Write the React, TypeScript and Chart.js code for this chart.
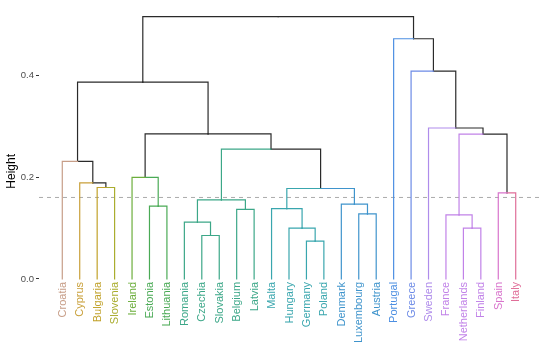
import React, { useEffect, useRef } from "react";
import { Chart, registerables } from "chart.js";

Chart.register(...registerables);

// Leaves in display order
const leafLabels = [
  "Croatia", "Cyprus", "Bulgaria", "Slovenia", "Ireland", "Estonia", "Lithuania",
  "Romania", "Czechia", "Slovakia", "Belgium", "Latvia", "Malta", "Hungary",
  "Germany", "Poland", "Denmark", "Luxembourg", "Austria", "Portugal", "Greece",
  "Sweden", "France", "Netherlands", "Finland", "Spain", "Italy",
];
// cluster id of each leaf
const leafCluster = [0, 1, 2, 3, 4, 5, 5, 6, 6, 6, 6, 6, 7, 7, 7, 7, 8, 8, 8, 9, 10, 11, 12, 12, 12, 13, 14];
const clusterColors = [
  "#C79E88", "#C9A03A", "#C1A22A", "#AAAD2E", "#6CAE3C", "#4AAA55", "#3CA788",
  "#39A6AE", "#3F94CC", "#4C8FE2", "#6C8AE6", "#AF8CEB", "#C182E8", "#D874CC", "#E06E98",
];
// hclust-style merges: negative = leaf -(index+1), positive = earlier merge (1-based)
const mergeLeft = [-15, -9, -14, -24, -8, -23, -18, -11, -13, -6, -17, 5, -26, 9, -3, -2, -5, -1, 12, 6, 17, -22, 18, -21, -20, 23];
const mergeRight = [-16, -10, 1, -25, 2, 4, -19, -12, 3, -7, 7, 8, -27, 11, -4, 15, 10, 16, 14, 13, 19, 20, 21, 22, 24, 25];
const mergeHeight = [
  0.0744, 0.0853, 0.0997, 0.0997, 0.1114, 0.1256, 0.1276, 0.1367, 0.1379, 0.1431,
  0.147, 0.1554, 0.169, 0.1776, 0.1795, 0.1886, 0.1996, 0.2308, 0.2548, 0.2843,
  0.2847, 0.2964, 0.3866, 0.408, 0.4716, 0.515,
];
const cutHeight = 0.16;
const yTickValues = [0, 0.2, 0.4];

const FONT = "'Liberation Sans', Arial, sans-serif";
const BLACK = "#2a2a2a";

function buildTree() {
  const nodeX: number[] = [];
  const nodeH: number[] = [];
  const nodeLeaves: number[][] = [];
  const info = (ref: number) => {
    if (ref < 0) {
      const i = -ref - 1;
      return { x: i, h: 0, leaves: [i] };
    }
    return { x: nodeX[ref - 1], h: nodeH[ref - 1], leaves: nodeLeaves[ref - 1] };
  };
  const edges: { pts: { x: number; y: number }[]; color: string }[] = [];
  for (let k = 0; k < mergeHeight.length; k++) {
    const a = info(mergeLeft[k]);
    const b = info(mergeRight[k]);
    const h = mergeHeight[k];
    const cx = (a.x + b.x) / 2;
    nodeX.push(cx);
    nodeH.push(h);
    nodeLeaves.push([...a.leaves, ...b.leaves]);
    for (const c of [a, b]) {
      const cl = leafCluster[c.leaves[0]];
      const same = c.leaves.every((l) => leafCluster[l] === cl);
      edges.push({
        pts: [
          { x: cx, y: h },
          { x: c.x, y: h },
          { x: c.x, y: c.h },
        ],
        color: same ? clusterColors[cl] : BLACK,
      });
    }
  }
  return edges;
}

const xMin = -1.335;
const xMax = leafLabels.length - 1 + 1.335;

export default function App() {
  const ref = useRef<HTMLCanvasElement | null>(null);
  useEffect(() => {
    if (!ref.current) return;
    const edges = buildTree();
    const datasets: any[] = edges.map((e) => ({
      data: e.pts,
      borderColor: e.color,
      borderWidth: 1.2,
      pointRadius: 0,
      tension: 0,
      fill: false,
      borderCapStyle: "square",
      borderJoinStyle: "miter",
    }));
    datasets.push({
      data: [
        { x: xMin, y: cutHeight },
        { x: xMax, y: cutHeight },
      ],
      borderColor: "#ABABAB",
      borderWidth: 1,
      borderDash: [4, 4],
      pointRadius: 0,
      fill: false,
    });

    const labelPlugin = {
      id: "leafLabels",
      afterDatasetsDraw(chart: any) {
        const ctx = chart.ctx;
        const xs = chart.scales.x;
        const ys = chart.scales.y;
        ctx.save();
        ctx.font = `11px ${FONT}`;
        ctx.textAlign = "right";
        ctx.textBaseline = "middle";
        leafLabels.forEach((lab, i) => {
          const px = xs.getPixelForValue(i);
          const py = ys.getPixelForValue(0) + 3;
          ctx.save();
          ctx.translate(px + 0.5, py);
          ctx.rotate(-Math.PI / 2);
          ctx.fillStyle = clusterColors[leafCluster[i]];
          ctx.fillText(lab, 0, 0);
          ctx.restore();
        });
        ctx.restore();
      },
    };

    const chart = new Chart(ref.current, {
      type: "line",
      data: { datasets },
      plugins: [labelPlugin],
      options: {
        animation: false,
        responsive: false,
        devicePixelRatio: 1,
        layout: { padding: { left: 0, top: 5, right: 11, bottom: 19 } },
        plugins: { legend: { display: false }, tooltip: { enabled: false } },
        elements: { line: { tension: 0 } },
        scales: {
          x: { type: "linear", min: xMin, max: xMax, display: false },
          y: {
            type: "linear",
            min: -0.1101,
            max: 0.5326,
            afterBuildTicks: (scale: any) => {
              scale.ticks = yTickValues.map((v) => ({ value: v }));
            },
            afterFit: (scale: any) => {
              scale.width = 39;
            },
            ticks: {
              callback: (v: any) => Number(v).toFixed(1),
              color: "#4D4D4D",
              font: { family: FONT, size: 9.5 },
              padding: 2,
            },
            grid: {
              display: true,
              drawOnChartArea: false,
              drawTicks: true,
              tickLength: 3,
              tickColor: "#333333",
              tickWidth: 1,
            },
            border: { display: false },
            title: {
              display: true,
              text: "Height",
              color: "#000000",
              font: { family: FONT, size: 12 },
              padding: { top: 4, bottom: 0 },
            },
          },
        },
      },
    });
    return () => chart.destroy();
  }, []);
  return (
    <div style={{ position: "fixed", left: 0, top: 0, width: 550, height: 354, background: "#fff" }}>
      <canvas ref={ref} width={550} height={354} style={{ display: "block" }} />
    </div>
  );
}
